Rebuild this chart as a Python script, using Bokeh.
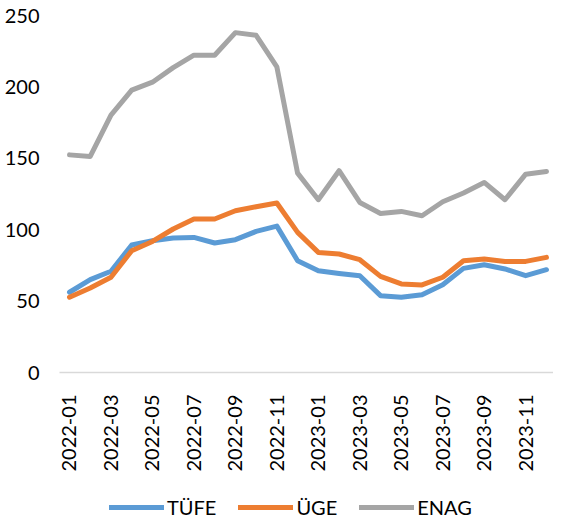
import math
from bokeh.plotting import figure
from bokeh.layouts import column
from bokeh.models import Range1d, FixedTicker, Legend, LegendItem
from bokeh.embed import file_html
from bokeh.resources import INLINE

months = ["2022-01", "2022-02", "2022-03", "2022-04", "2022-05", "2022-06",
          "2022-07", "2022-08", "2022-09", "2022-10", "2022-11", "2022-12",
          "2023-01", "2023-02", "2023-03", "2023-04", "2023-05", "2023-06",
          "2023-07", "2023-08", "2023-09", "2023-10", "2023-11", "2023-12"]
tufe = [56.2, 65.0, 70.9, 89.3, 92.3, 94.2, 94.6, 90.7, 93.0, 98.8, 102.5, 78.3,
        71.3, 69.4, 67.8, 53.8, 52.7, 54.5, 61.5, 72.9, 75.5, 72.5, 67.8, 72.0]
uge = [52.7, 59.2, 66.7, 85.3, 91.8, 100.5, 107.5, 107.5, 113.3, 116.1, 118.7, 98.1,
       84.1, 83.0, 79.0, 67.3, 62.0, 61.3, 66.7, 78.3, 79.5, 77.8, 77.8, 80.6]
enag = [152.4, 151.3, 180.2, 197.7, 203.3, 213.5, 222.2, 222.2, 238.0, 236.1, 214.0, 139.6,
        121.0, 141.3, 119.1, 111.4, 112.8, 109.8, 119.6, 125.7, 133.1, 121.0, 138.9, 140.8]
series_names = ["TÜFE", "ÜGE", "ENAG"]
colors = ["#5B9BD5", "#ED7D31", "#A5A5A5"]
y_ticks = [0, 50, 100, 150, 200, 250]

xs = list(range(len(months)))
FONT = "Lato"
LW = 5

p = figure(width=553, height=475, output_backend="svg", toolbar_location=None,
           x_range=Range1d(-0.482, 23.34), y_range=Range1d(0, 250),
           min_border_top=15, min_border_left=59, min_border_right=0,
           min_border_bottom=103, outline_line_color=None)
p.xgrid.visible = False
p.ygrid.visible = False

for vals, col in zip([tufe, uge, enag], colors):
    p.line(xs, vals, line_color=col, line_width=LW,
           line_join="round", line_cap="round")

# x axis
p.xaxis.ticker = FixedTicker(ticks=xs[::2])
p.xaxis.major_label_overrides = {i: months[i] for i in xs[::2]}
p.xaxis.major_label_orientation = math.pi / 2
p.xaxis.axis_line_color = "#D9D9D9"
p.xaxis.axis_line_width = 1.5
p.xaxis.major_tick_line_color = None
p.xaxis.minor_tick_line_color = None
p.xaxis.major_label_standoff = 16
p.xaxis.major_label_text_font = FONT
p.xaxis.major_label_text_font_size = "20px"
p.xaxis.major_label_text_color = "#000000"

# y axis
p.yaxis.ticker = FixedTicker(ticks=y_ticks)
p.yaxis.axis_line_color = None
p.yaxis.major_tick_line_color = None
p.yaxis.minor_tick_line_color = None
p.yaxis.major_label_standoff = 14
p.yaxis.major_label_text_font = FONT
p.yaxis.major_label_text_font_size = "20px"
p.yaxis.major_label_text_color = "#000000"

# legend strip below the chart (proxy renderers hold no visible data)
lg = figure(width=553, height=45, output_backend="svg", toolbar_location=None,
            x_range=Range1d(0, 1), y_range=Range1d(0, 1),
            min_border_top=0, min_border_left=0, min_border_right=0,
            min_border_bottom=0, outline_line_color=None)
lg.axis.visible = False
lg.xgrid.visible = False
lg.ygrid.visible = False
nan = float("nan")
items = []
for name, col in zip(series_names, colors):
    r = lg.line([nan], [nan], line_color=col, line_width=LW,
                line_join="round", line_cap="round")
    items.append(LegendItem(label=name, renderers=[r]))

legend = Legend(items=items, orientation="horizontal", location=(50, 1),
                glyph_width=55, glyph_height=16, label_height=16,
                label_standoff=3, spacing=22, padding=0, margin=0,
                border_line_color=None, background_fill_alpha=0,
                label_text_font=FONT, label_text_font_size="20px",
                label_text_color="#000000")
lg.add_layout(legend, "center")

layout = column(p, lg, spacing=0)
open("out.html", "w").write(file_html(layout, INLINE))
